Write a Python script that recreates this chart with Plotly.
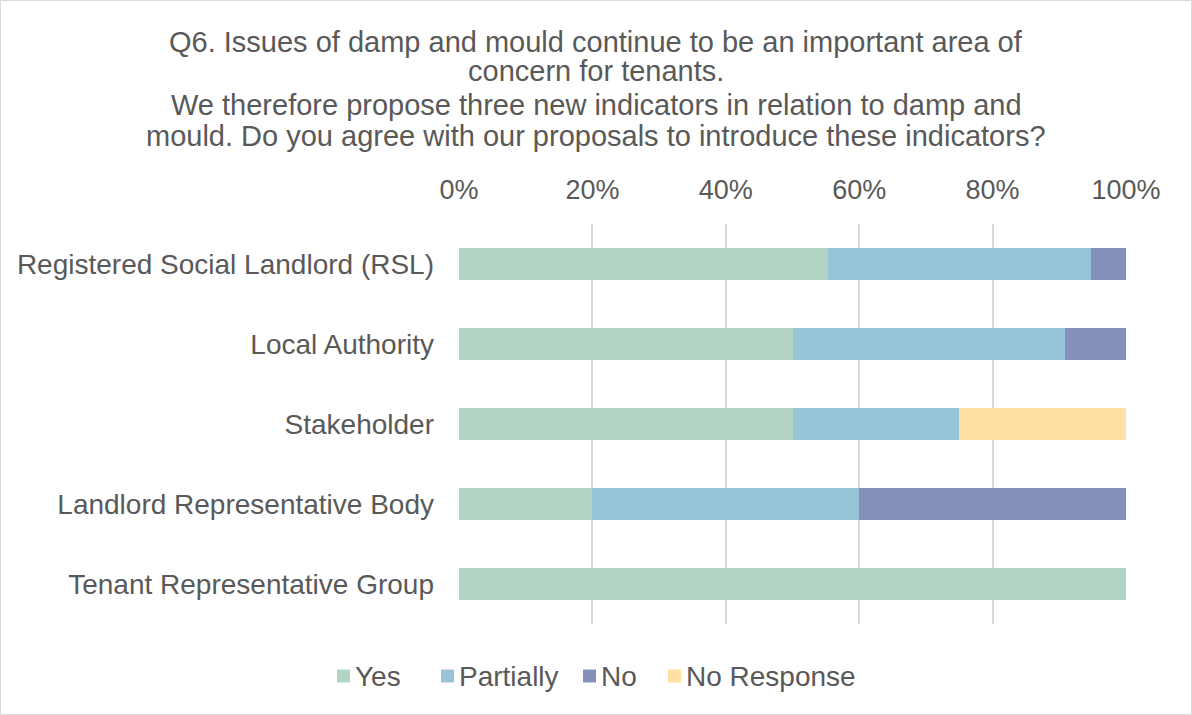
import plotly.graph_objects as go

# Survey responses (share of respondents in each group)
groups = [
    "Registered Social Landlord (RSL)",
    "Local Authority",
    "Stakeholder",
    "Landlord Representative Body",
    "Tenant Representative Group",
]
yes = [21 / 38, 11 / 22, 0.50, 0.20, 1.00]
partially = [15 / 38, 9 / 22, 0.25, 0.40, 0.0]
no = [2 / 38, 2 / 22, 0.0, 0.40, 0.0]
no_response = [0.0, 0.0, 0.25, 0.0, 0.0]

series_names = ["Yes", "Partially", "No", "No Response"]
series_values = [yes, partially, no, no_response]
series_colors = ["#B3D4C4", "#97C4D7", "#8591BA", "#FFE0A3"]

x_ticks = [0, 0.2, 0.4, 0.6, 0.8, 1.0]
x_tick_labels = ["0%", "20%", "40%", "60%", "80%", "100%"]

title_lines = [
    "Q6. Issues of damp and mould continue to be an important area of",
    "concern for tenants.",
    "We therefore propose three new indicators in relation to damp and",
    "mould. Do you agree with our proposals to introduce these indicators?",
]

W, H = 1192, 715
ML, MR, MT, MB = 459, 66, 224, 91
TEXT = "#595959"
FONT = "Liberation Sans, Arial, sans-serif"

fig = go.Figure()
for name, vals, col in zip(series_names, series_values, series_colors):
    fig.add_trace(go.Bar(
        y=groups, x=vals, name=name, orientation="h",
        marker=dict(color=col, line=dict(width=0)),
        hoverinfo="x+name", showlegend=False,
    ))

pw, ph = W - ML - MR, H - MT - MB


def px_x(xp):
    return (xp - ML) / pw


def px_y(yp):
    return 1 - (yp - MT) / ph


fig.update_layout(
    width=W, height=H,
    margin=dict(l=ML, r=MR, t=MT, b=MB, autoexpand=False),
    barmode="stack", bargap=0.6,
    paper_bgcolor="white", plot_bgcolor="white",
    font=dict(family=FONT, size=27, color=TEXT),
    xaxis=dict(
        side="top", range=[0, 1], tickvals=x_ticks, ticktext=x_tick_labels,
        showgrid=True, gridcolor="#D9D9D9", gridwidth=1.5,
        zeroline=False, showline=False, ticks="", ticklabelstandoff=19,
        tickfont=dict(size=27, color=TEXT), fixedrange=True,
    ),
    yaxis=dict(
        autorange="reversed", showgrid=False, showline=False, ticks="",
        ticklabelstandoff=24, tickfont=dict(size=28, color=TEXT),
        fixedrange=True,
    ),
)

# Multi-line chart title
title_y = [42, 71, 105, 136]
for line, yp in zip(title_lines, title_y):
    fig.add_annotation(
        text=line, xref="paper", yref="paper",
        x=px_x(W / 2), y=px_y(yp),
        xanchor="center", yanchor="middle", showarrow=False,
        font=dict(size=29, color=TEXT, family=FONT),
    )

# Legend row: colour square followed by series name
legend_sq_x = [337, 441, 583, 668]
legend_y = 676
for name, col, sx in zip(series_names, series_colors, legend_sq_x):
    fig.add_shape(
        type="rect", xref="paper", yref="paper",
        x0=px_x(sx), x1=px_x(sx + 13),
        y0=px_y(legend_y + 6.5), y1=px_y(legend_y - 6.5),
        fillcolor=col, line=dict(width=0),
    )
    fig.add_annotation(
        text=name, xref="paper", yref="paper",
        x=px_x(sx + 16), y=px_y(legend_y),
        xanchor="left", yanchor="middle", showarrow=False,
        font=dict(size=28, color=TEXT, family=FONT),
    )

# Thin frame around the whole chart area
fig.add_shape(
    type="rect", xref="paper", yref="paper",
    x0=px_x(0.5), x1=px_x(W - 0.5),
    y0=px_y(H - 0.5), y1=px_y(0.5),
    line=dict(color="#D9D9D9", width=1), layer="below",
)

fig.write_html("out.html", config={"displayModeBar": False})
